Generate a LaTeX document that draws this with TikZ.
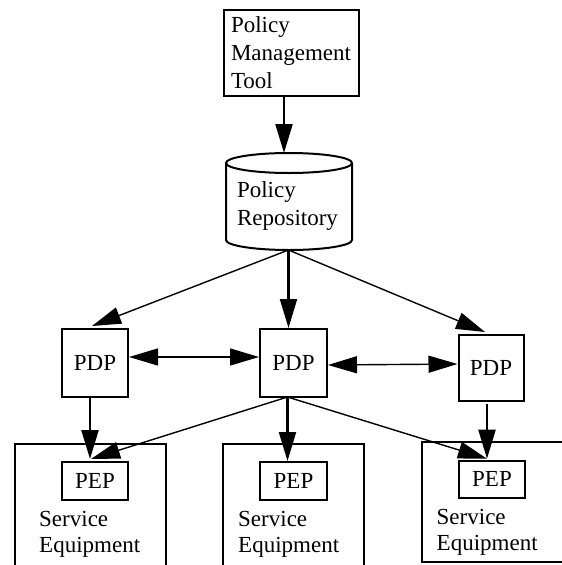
\documentclass[tikz,border=0pt]{standalone}
\usepackage{fontspec}
\setmainfont{Liberation Serif}
\usetikzlibrary{arrows.meta}
\begin{document}
\begin{tikzpicture}[x=1pt,y=-1pt,
  box/.style={draw, line width=2pt, inner sep=0pt, font=\fontsize{23}{28}\selectfont},
  lbl/.style={inner sep=0pt, font=\fontsize{23}{28}\selectfont, align=left},
  selbl/.style={inner sep=0pt, font=\fontsize{23}{26}\selectfont, align=left, anchor=north west},
  outline/.style={line width=2pt},
  tip/.tip={Triangle[length=29pt,width=17pt]},
  heavyarr/.style={line width=2.2pt, -tip},
  lightarr/.style={line width=1.4pt, -tip},
  bothway/.style={line width=1.4pt, tip-tip},
]
\useasboundingbox (0,0) rectangle (562,565);

% Policy Management Tool
\node[box, minimum width=135pt, minimum height=86pt, text width=121pt, align=left] (pmt) at (291.5,53) {Policy\\Management\\Tool};

% Policy Repository (cylinder)
\draw[outline] (289,163) ellipse [x radius=63pt, y radius=10pt];
\draw[outline] (226,163) -- (226,240) arc[start angle=180, end angle=360, x radius=63pt, y radius=10pt] -- (352,163);
\node[lbl, text width=104pt] (repo) at (289,206) {Policy\\Repository};
\coordinate (rtop) at (284,153);
\coordinate (rbot) at (288.5,250);

% PDPs
\node[box, minimum width=66pt, minimum height=68pt] (pdpL) at (95,363) {PDP};
\node[box, minimum width=67pt, minimum height=68pt] (pdpM) at (293.5,363) {PDP};
\node[box, minimum width=65pt, minimum height=66pt] (pdpR) at (491,368) {PDP};

% Service Equipment boxes
\draw[outline] (15,566) -- (15,444) -- (165.5,444) -- (165.5,566);
\draw[outline] (223,566) -- (223,444) -- (364,444) -- (364,566);
\draw[outline] (563,442) -- (421.5,442) -- (421.5,562) -- (563,562);

% PEPs
\node[box, minimum width=66pt, minimum height=38pt] (pepL) at (95,481) {PEP};
\node[box, minimum width=67pt, minimum height=38pt] (pepM) at (293.5,481) {PEP};
\node[box, minimum width=66pt, minimum height=37pt] (pepR) at (492,479.2) {PEP};

\node[selbl] (seL) at (39,511.5) {Service\\Equipment};
\node[selbl] (seM) at (238,511.5) {Service\\Equipment};
\node[selbl] (seR) at (436.5,509) {Service\\Equipment};

% connectors
\draw[heavyarr] (pmt.south -| rtop) -- (rtop);
\draw[lightarr] (rbot) -- ([xshift=-3pt,yshift=2pt]pdpL.north);
\draw[heavyarr] (rbot) -- (rbot |- pdpM.north);
\draw[lightarr] (rbot) -- ([xshift=-6pt,yshift=2pt]pdpR.north);

\draw[bothway] ([yshift=6pt]pdpL.east) -- ([yshift=6pt]pdpM.west);
\draw[bothway] ([yshift=-2pt]pdpM.east) -- ([yshift=4pt]pdpR.west);

\coordinate (mbot) at ([xshift=-6pt,yshift=1pt]pdpM.south);
\draw[heavyarr] ([xshift=-5pt]pdpL.south) -- ([xshift=-5pt,yshift=2pt]pepL.north);
\draw[lightarr] (mbot) -- ([xshift=-4pt,yshift=2pt]pepL.north);
\draw[heavyarr] (mbot) -- (mbot |- pepM.north);
\draw[lightarr] (mbot) -- ([xshift=-5pt,yshift=1pt]pepR.north);
\draw[heavyarr] ([xshift=-4pt,yshift=-2pt]pdpR.south) -- ([xshift=-5pt,yshift=1pt]pepR.north);
\end{tikzpicture}
\end{document}
